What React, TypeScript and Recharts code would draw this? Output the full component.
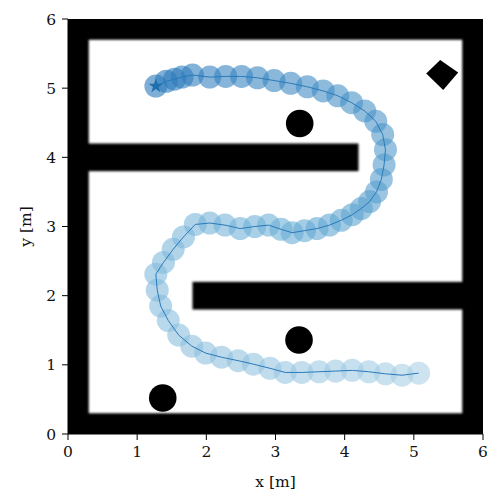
import React from 'react';
import {
  ReferenceArea,
  Scatter,
  ScatterChart,
  XAxis,
  YAxis,
} from 'recharts';

// Robot path through the maze, from the bottom right to the star.
const pathX = [
  5.07, 4.83, 4.59, 4.35, 4.11, 3.87, 3.63, 3.38, 3.14, 2.92, 2.68, 2.46, 2.22, 1.99,
  1.79, 1.6, 1.45, 1.34, 1.29, 1.27, 1.38, 1.52, 1.67, 1.84, 2.05, 2.27, 2.49, 2.7,
  2.9, 3.08, 3.24, 3.42, 3.6, 3.78, 3.95, 4.11, 4.24, 4.36, 4.46, 4.53, 4.57, 4.59,
  4.55, 4.45, 4.29, 4.1, 3.9, 3.69, 3.46, 3.22, 2.98, 2.74, 2.51, 2.28, 2.05, 1.8,
  1.65, 1.54, 1.42, 1.27,
];
const pathY = [
  0.88, 0.85, 0.87, 0.9, 0.92, 0.91, 0.9, 0.89, 0.89, 0.95, 1.01, 1.06, 1.11, 1.17,
  1.27, 1.43, 1.64, 1.85, 2.08, 2.31, 2.48, 2.67, 2.85, 3.03, 3.05, 3.02, 2.97, 3.0,
  3.02, 2.96, 2.91, 2.94, 2.97, 3.02, 3.09, 3.17, 3.26, 3.36, 3.5, 3.68, 3.89, 4.11,
  4.33, 4.52, 4.67, 4.79, 4.89, 4.96, 5.02, 5.07, 5.11, 5.15, 5.17, 5.17, 5.16, 5.19,
  5.16, 5.13, 5.1, 5.03,
];

// Round obstacles and the goal
const obstacleX = [3.35, 3.34, 1.37];
const obstacleY = [4.49, 1.36, 0.52];
const goalX = [5.41];
const goalY = [5.19];

// Walls as [x1, x2, y1, y2]; outer ones reach past the axes so the blur stays inside
const walls = [
  [-0.5, 0.3, -0.5, 6.5],
  [5.7, 6.5, -0.5, 6.5],
  [-0.5, 6.5, -0.5, 0.3],
  [-0.5, 6.5, 5.7, 6.5],
  [-0.5, 4.2, 3.8, 4.2],
  [1.8, 6.5, 1.8, 2.2],
];

const ticks = [0, 1, 2, 3, 4, 5, 6];

const pathData = pathX.map((x, i) => ({ x, y: pathY[i], i }));
const obstacleData = obstacleX.map((x, i) => ({ x, y: obstacleY[i] }));
const goalData = goalX.map((x, i) => ({ x, y: goalY[i] }));
const startData = [pathData[pathData.length - 1]];

const FONT = '"DejaVu Serif", "Liberation Serif", serif';
const FS = 15.5;

// light -> dark blue along the path
const stops = [
  [171, 208, 230],
  [107, 174, 214],
  [40, 120, 186],
];
function pathColor(i: number) {
  const t = i / (pathX.length - 1);
  const seg = t < 0.5 ? 0 : 1;
  const f = t < 0.5 ? t / 0.5 : (t - 0.5) / 0.5;
  const a = stops[seg];
  const b = stops[seg + 1];
  const c = a.map((v, k) => Math.round(v + (b[k] - v) * f));
  return `rgb(${c[0]},${c[1]},${c[2]})`;
}

const Wall = (props: any) => (
  <g clipPath={props.clipPath}>
    <defs>
      <filter id="wallBlur" x="-50%" y="-50%" width="200%" height="200%">
        <feGaussianBlur stdDeviation="1.3" />
      </filter>
    </defs>
    <rect
      x={props.x}
      y={props.y}
      width={props.width}
      height={props.height}
      fill="#000"
      filter="url(#wallBlur)"
    />
  </g>
);

const PathDot = (props: any) => (
  <circle
    cx={props.cx}
    cy={props.cy}
    r={11.5}
    fill={pathColor(props.payload.i)}
    fillOpacity={0.6}
  />
);

const Obstacle = (props: any) => <circle cx={props.cx} cy={props.cy} r={13.8} fill="#000" />;

const Goal = (props: any) => {
  const { cx, cy } = props;
  const pts = [
    [-2, -15],
    [16, -2.5],
    [1, 15],
    [-16, -1.5],
  ]
    .map(([dx, dy]) => `${cx + dx},${cy + dy}`)
    .join(' ');
  return <polygon points={pts} fill="#000" />;
};

const Star = (props: any) => {
  const { cx, cy } = props;
  const pts: string[] = [];
  for (let k = 0; k < 10; k++) {
    const r = k % 2 === 0 ? 7.5 : 3;
    const ang = -Math.PI / 2 + (k * Math.PI) / 5;
    pts.push(`${cx + r * Math.cos(ang)},${cy + r * Math.sin(ang)}`);
  }
  return <polygon points={pts.join(' ')} fill="#1f6fae" />;
};

const NoDot = () => <g />;

export default function App() {
  return (
    <div style={{ position: 'absolute', left: 0, top: 0, fontFamily: FONT, background: '#fff' }}>
      <ScatterChart width={487} height={493} margin={{ top: 19, right: 4, bottom: 0, left: 8 }}>
        <XAxis
          type="number"
          dataKey="x"
          domain={[0, 6]}
          ticks={ticks}
          allowDataOverflow
          height={59}
          tickSize={6}
          tickMargin={6}
          stroke="#000"
          tick={{ fill: '#111', fontSize: FS, fontFamily: FONT }}
          label={{ value: 'x [m]', position: 'insideBottom', offset: 6, fill: '#111', fontSize: FS, fontFamily: FONT }}
        />
        <YAxis
          type="number"
          dataKey="y"
          domain={[0, 6]}
          ticks={ticks}
          allowDataOverflow
          width={60}
          tickSize={6}
          tickMargin={6}
          stroke="#000"
          tick={{ fill: '#111', fontSize: FS, fontFamily: FONT }}
          label={{
            value: 'y [m]',
            angle: -90,
            position: 'insideLeft',
            offset: 17,
            fill: '#111',
            fontSize: FS,
            fontFamily: FONT,
            style: { textAnchor: 'middle' },
          }}
        />
        {walls.map(([x1, x2, y1, y2], k) => (
          <ReferenceArea
            key={k}
            x1={x1}
            x2={x2}
            y1={y1}
            y2={y2}
            ifOverflow="hidden"
            shape={Wall}
          />
        ))}
        <Scatter data={obstacleData} shape={Obstacle} isAnimationActive={false} />
        <Scatter data={goalData} shape={Goal} isAnimationActive={false} />
        <Scatter data={pathData} shape={PathDot} isAnimationActive={false} />
        <Scatter
          data={pathData}
          shape={NoDot}
          line={{ stroke: '#2a7ab9', strokeWidth: 1 }}
          isAnimationActive={false}
        />
        <Scatter data={startData} shape={Star} isAnimationActive={false} />
      </ScatterChart>
    </div>
  );
}
